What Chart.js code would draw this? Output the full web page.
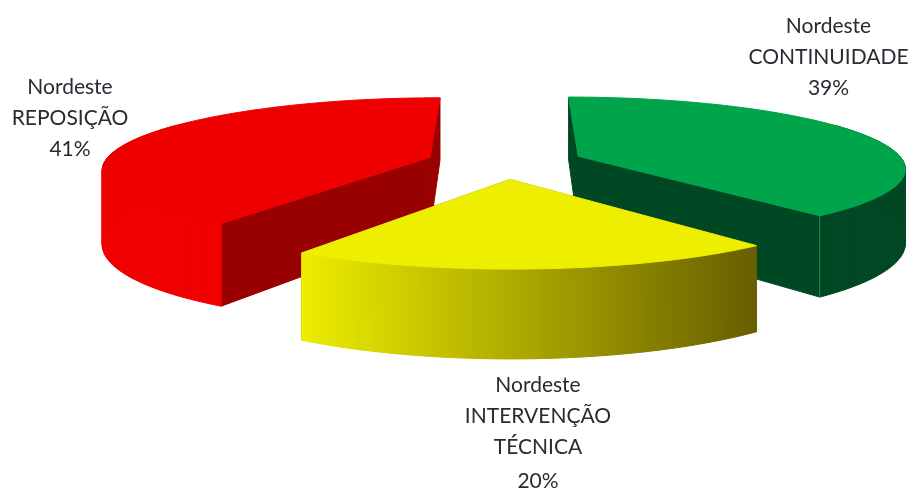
<!DOCTYPE html>
<html>
<head>
<meta charset="utf-8">
<style>html,body{margin:0;padding:0;background:#fff}canvas{display:block;filter:blur(0.4px)}</style>
<script src="https://cdn.jsdelivr.net/npm/chart.js@4"></script>
</head>
<body>
<div style="width:912px;height:491px"><canvas id="c" width="912" height="491"></canvas></div>
<script>
const categories = ['Nordeste CONTINUIDADE', 'Nordeste INTERVENÇÃO TÉCNICA', 'Nordeste REPOSIÇÃO'];
const values = [39, 20, 41];
const topColors = ['#00a44a', '#eeee00', '#ee0000'];
const labelLines = [['Nordeste', 'CONTINUIDADE', '39%'], ['Nordeste', 'INTERVENÇÃO', 'TÉCNICA', '20%'], ['Nordeste', 'REPOSIÇÃO', '41%']];

// View settings for the pseudo-3D projection
const view = {vx: 505, hy: -295, A: 452, p: 0.00047, R: 322, Yc: -23, H: 72};
const cutColors = ['#004723', '#8a8400', '#990000'];
const rimStyles = [['#004723', '#004723'], ['#eded00', '#665e00'], ['#f20000', '#f20000']];
const labelBoxes = [{x: 828.5, y: [26, 57, 88]}, {x: 538, y: [385, 416, 447, 481]}, {x: 70, y: [87, 118, 149]}];
const drawOrder = [2, 0, 1];

function project(X, Y, z) {
  const s = 1 / (1 + view.p * Y);
  return [view.vx + X * s, view.hy + (view.A + z) * s];
}
function poly(ctx, pts, fill) {
  ctx.beginPath();
  pts.forEach((p, i) => i ? ctx.lineTo(p[0], p[1]) : ctx.moveTo(p[0], p[1]));
  ctx.closePath();
  ctx.fillStyle = fill;
  ctx.strokeStyle = fill;
  ctx.lineWidth = 1;
  ctx.fill();
  ctx.stroke();
}
const pie3d = {
  id: 'pie3d',
  beforeDatasetsDraw(chart) {
    const ctx = chart.ctx;
    const meta = chart.getDatasetMeta(0);
    drawOrder.forEach(i => {
      const el = meta.data[i];
      const a0 = el.startAngle + Math.PI / 2, a1 = el.endAngle + Math.PI / 2;
      const mid = (a0 + a1) / 2;
      const e = view.R * el.options.offset / el.outerRadius;
      const ax = Math.sin(mid) * e, ay = view.Yc + Math.cos(mid) * e;
      const rim = [];
      const n = 120;
      for (let k = 0; k <= n; k++) {
        const t = a0 + (a1 - a0) * k / n;
        rim.push([ax + view.R * Math.sin(t), ay + view.R * Math.cos(t)]);
      }
      const top = rim.map(q => project(q[0], q[1], 0));
      const bot = rim.map(q => project(q[0], q[1], view.H));
      const apexT = project(ax, ay, 0), apexB = project(ax, ay, view.H);
      // cut walls
      poly(ctx, [apexT, top[0], bot[0], apexB], cutColors[i]);
      poly(ctx, [apexT, top[n], bot[n], apexB], cutColors[i]);
      // outer wall, one strip per rim step so that it folds cleanly at the silhouette
      const vis = [];
      rim.forEach((q, k) => { if (Math.cos(a0 + (a1 - a0) * k / n) < 0.5) vis.push(k); });
      if (vis.length > 1) {
        const xs = vis.map(k => top[k][0]);
        const g = ctx.createLinearGradient(Math.min(...xs), 0, Math.max(...xs), 0);
        g.addColorStop(0, rimStyles[i][0]);
        g.addColorStop(1, rimStyles[i][1]);
        for (let v = 0; v < vis.length - 1; v++) {
          const k = vis[v], m = vis[v + 1];
          poly(ctx, [top[k], top[m], bot[m], bot[k]], g);
        }
      }
      // top face
      poly(ctx, [apexT].concat(top), topColors[i]);
      // thin corner highlight on the green slice
      if (i === 0) {
        ctx.beginPath();
        ctx.moveTo(top[n][0], top[n][1]);
        ctx.lineTo(bot[n][0], bot[n][1]);
        ctx.strokeStyle = '#1f8f52';
        ctx.lineWidth = 1;
        ctx.stroke();
      }
    });
    // labels
    ctx.fillStyle = '#2a2a33';
    ctx.font = '21px Lato, "Open Sans", sans-serif';
    ctx.textAlign = 'center';
    ctx.textBaseline = 'middle';
    labelLines.forEach((lines, i) => {
      lines.forEach((t, j) => ctx.fillText(t, labelBoxes[i].x, labelBoxes[i].y[j]));
    });
    return false;
  }
};
new Chart(document.getElementById('c'), {
  type: 'pie',
  data: {
    labels: categories,
    datasets: [{data: values, backgroundColor: topColors, borderWidth: 0, offset: 53}]
  },
  options: {
    responsive: false,
    animation: false,
    layout: {padding: 0},
    plugins: {legend: {display: false}, tooltip: {enabled: false}}
  },
  plugins: [pie3d]
});
</script>
</body>
</html>
